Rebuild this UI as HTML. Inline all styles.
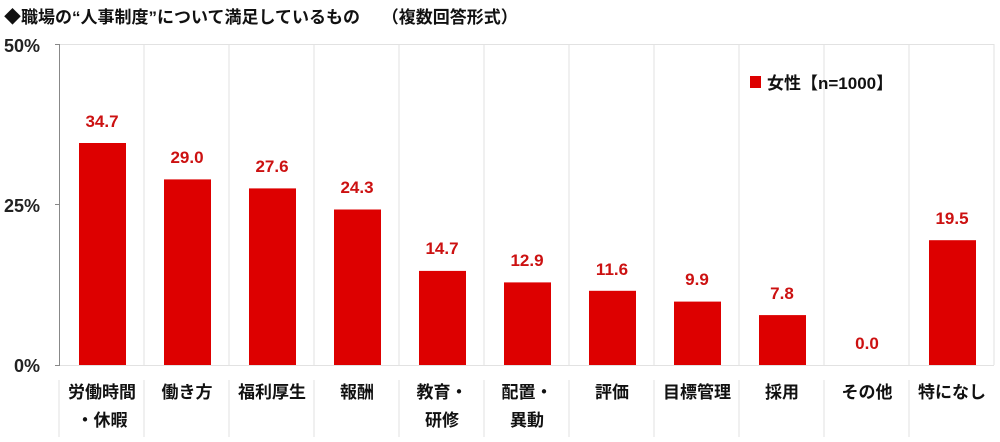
<!DOCTYPE html>
<html><head><meta charset="utf-8"><style>
body{margin:0;background:#fff;}
svg text{font-family:"Liberation Sans","Noto Sans CJK JP",sans-serif;}
</style></head><body>
<svg width="1000" height="437" viewBox="0 0 1000 437" xmlns="http://www.w3.org/2000/svg">
<rect width="1000" height="437" fill="#fff"/>
<text x="4" y="23" font-size="17" font-weight="bold" fill="#111">◆職場の“人事制度”について満足しているもの　 （複数回答形式）</text>
<g font-size="18" font-weight="bold" fill="#222" text-anchor="end">
<text x="40" y="52">50%</text><text x="40" y="212">25%</text><text x="40" y="372">0%</text>
</g>
<g stroke="#e2e2e2" stroke-width="1">
<line x1="59" y1="44.5" x2="994" y2="44.5"/>
<line x1="994" y1="44" x2="994" y2="365"/>
<line x1="59" y1="365.5" x2="994" y2="365.5"/>
<line x1="144" y1="44" x2="144" y2="365"/><line x1="229" y1="44" x2="229" y2="365"/><line x1="314" y1="44" x2="314" y2="365"/><line x1="399" y1="44" x2="399" y2="365"/><line x1="484" y1="44" x2="484" y2="365"/><line x1="569" y1="44" x2="569" y2="365"/><line x1="654" y1="44" x2="654" y2="365"/><line x1="739" y1="44" x2="739" y2="365"/><line x1="824" y1="44" x2="824" y2="365"/><line x1="909" y1="44" x2="909" y2="365"/>
<line x1="59" y1="380" x2="59" y2="437"/><line x1="144" y1="380" x2="144" y2="437"/><line x1="229" y1="380" x2="229" y2="437"/><line x1="314" y1="380" x2="314" y2="437"/><line x1="399" y1="380" x2="399" y2="437"/><line x1="484" y1="380" x2="484" y2="437"/><line x1="569" y1="380" x2="569" y2="437"/><line x1="654" y1="380" x2="654" y2="437"/><line x1="739" y1="380" x2="739" y2="437"/><line x1="824" y1="380" x2="824" y2="437"/><line x1="909" y1="380" x2="909" y2="437"/>
</g>
<line x1="59.5" y1="44" x2="59.5" y2="365" stroke="#888"/>
<line x1="55" y1="44.5" x2="60" y2="44.5" stroke="#888"/>
<line x1="55" y1="204.5" x2="60" y2="204.5" stroke="#888"/>
<line x1="55" y1="365.5" x2="60" y2="365.5" stroke="#888"/>
<g fill="#dd0000">
<rect x="79" y="143" width="47" height="222"/>
<rect x="164" y="179.4" width="47" height="185.6"/>
<rect x="249" y="188.4" width="47" height="176.6"/>
<rect x="334" y="209.5" width="47" height="155.5"/>
<rect x="419" y="270.9" width="47" height="94.1"/>
<rect x="504" y="282.4" width="47" height="82.6"/>
<rect x="589" y="290.8" width="47" height="74.2"/>
<rect x="674" y="301.6" width="47" height="63.4"/>
<rect x="759" y="315.1" width="47" height="49.9"/>
<rect x="929" y="240.2" width="47" height="124.8"/>
</g>
<g font-size="17" font-weight="bold" fill="#cc1111" text-anchor="middle">
<text x="102" y="127">34.7</text><text x="187" y="163">29.0</text><text x="272" y="172">27.6</text><text x="357" y="193">24.3</text><text x="442" y="254">14.7</text><text x="527" y="266">12.9</text><text x="612" y="275">11.6</text><text x="697" y="285">9.9</text><text x="782" y="299">7.8</text><text x="867" y="349">0.0</text><text x="952" y="224">19.5</text>
</g>
<rect x="750" y="76" width="11" height="12" fill="#dd0000"/>
<text x="767" y="89" font-size="17" font-weight="bold" fill="#111">女性【n=1000】</text>
<g font-size="17" font-weight="bold" fill="#111" text-anchor="middle">
<text x="102" y="398">労働時間</text><text x="102" y="426">・休暇</text>
<text x="187" y="398">働き方</text><text x="272" y="398">福利厚生</text><text x="357" y="398">報酬</text>
<text x="442" y="398">教育・</text><text x="442" y="426">研修</text>
<text x="527" y="398">配置・</text><text x="527" y="426">異動</text>
<text x="612" y="398">評価</text><text x="697" y="398">目標管理</text><text x="782" y="398">採用</text><text x="867" y="398">その他</text><text x="952" y="398">特になし</text>
</g>
</svg>
</body></html>
